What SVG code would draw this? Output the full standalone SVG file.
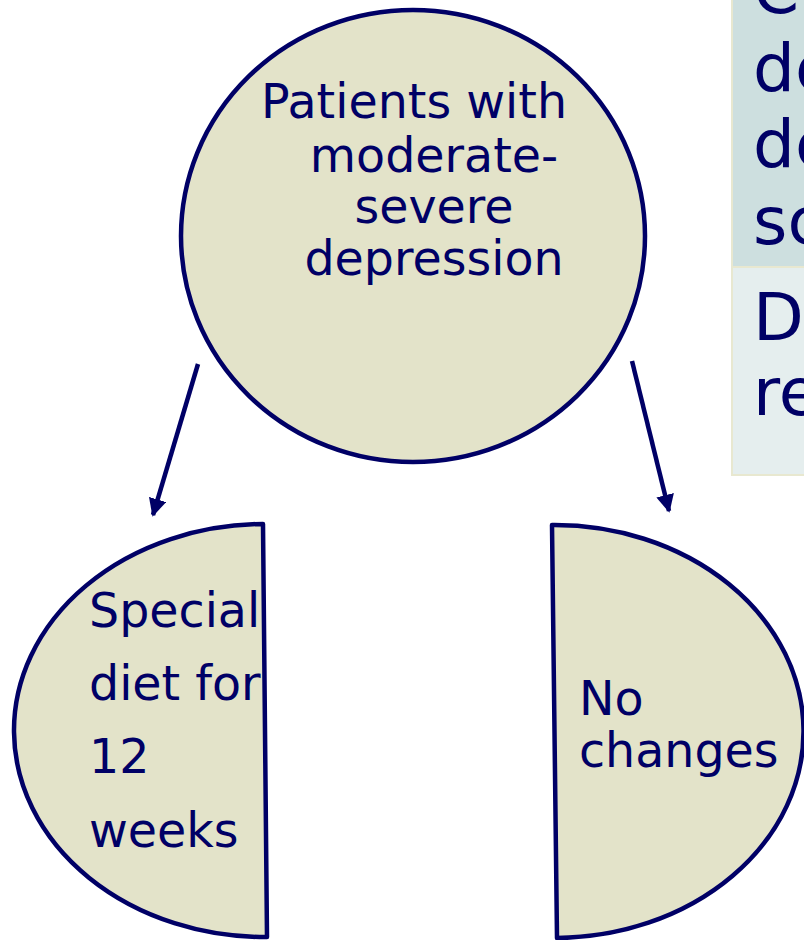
<svg xmlns="http://www.w3.org/2000/svg" width="804" height="940" viewBox="0 0 804 940">
<style>
.node{fill:#e3e3c9;stroke:#000066;stroke-width:4.5;stroke-linejoin:round}
.t{font-family:"DejaVu Sans",Verdana,sans-serif;fill:#000066}
.conn{stroke:#000066;stroke-width:4.5;fill:none}
</style>
<defs>
<marker id="ah" viewBox="0 0 10 10" refX="9" refY="5" markerWidth="4" markerHeight="4" orient="auto" markerUnits="strokeWidth">
<path d="M0,0 L10,5 L0,10 z" fill="#000066"/>
</marker>
<clipPath id="clipL"><path d="M263,524 L267,937 A251 206.5 0 0 1 263,524 Z"/></clipPath>
</defs>
<rect width="804" height="940" fill="#ffffff"/>
<g id="table">
<rect x="732" y="-2" width="80" height="269" fill="#cddfdf" stroke="#e8e8d0" stroke-width="2"/>
<rect x="732" y="267" width="80" height="208" fill="#e5eeee" stroke="#e8e8d0" stroke-width="2"/>
<g class="t" font-size="66">
<text x="753" y="13">Ch</text>
<text x="753" y="91">de</text>
<text x="753" y="167">de</text>
<text x="753" y="244">sc</text>
<text x="753" y="340">De</text>
<text x="753" y="415">re</text>
</g>
</g>
<g id="connectors">
<line class="conn" x1="198" y1="364" x2="153" y2="515" marker-end="url(#ah)"/>
<line class="conn" x1="632" y1="361" x2="669" y2="511" marker-end="url(#ah)"/>
</g>
<g id="patients">
<ellipse class="node" cx="413" cy="236" rx="232" ry="226"/>
<g class="t" font-size="47.5" text-anchor="middle">
<text x="414" y="118">Patients with</text>
<text x="434" y="172">moderate-</text>
<text x="434" y="223">severe</text>
<text x="434" y="275">depression</text>
</g>
</g>
<g id="diet">
<path class="node" d="M263,524 L267,937 A251 206.5 0 0 1 263,524 Z"/>
<g class="t" font-size="47.5" clip-path="url(#clipL)">
<text x="89" y="627">Special</text>
<text x="89" y="700">diet for</text>
<text x="89" y="773">12</text>
<text x="89" y="847">weeks</text>
</g>
</g>
<g id="nochanges">
<path class="node" d="M552,525 L557,938 A249 206.5 0 0 0 552,525 Z"/>
<g class="t" font-size="47.5">
<text x="579" y="715">No</text>
<text x="579" y="767">changes</text>
</g>
</g>
</svg>
